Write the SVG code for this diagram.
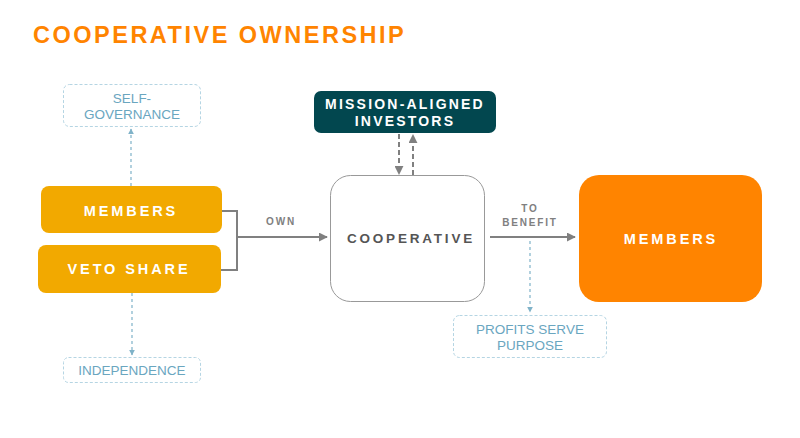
<svg xmlns="http://www.w3.org/2000/svg" width="800" height="438" viewBox="0 0 800 438">
<defs>
<style>
.t{font-family:"Liberation Sans",Arial,sans-serif}
.title{font-size:23.5px;font-weight:bold;fill:#FF8400;letter-spacing:2.5px}
.btxt{font-size:14.5px;font-weight:bold;fill:#fff;letter-spacing:2.9px}
.mtxt{font-size:14px;font-weight:bold;fill:#fff;letter-spacing:2.2px}
.ltxt{font-size:10px;font-weight:bold;fill:#808080;letter-spacing:1.8px}
.dtxt{font-size:13.5px;fill:#6aa6bf}
.dbox{fill:#fff;stroke:#b5d5e3;stroke-width:1;stroke-dasharray:3,2}
.dline{stroke:#7fb2c8;stroke-width:1.2;stroke-dasharray:3,3;fill:none}
.gline{stroke:#808080;stroke-width:2;fill:none}
.gdash{stroke:#808080;stroke-width:2;stroke-dasharray:5,3;fill:none}
</style>
<marker id="ag" viewBox="0 0 10 10" refX="9" refY="5" markerWidth="4.5" markerHeight="4.5" orient="auto"><path d="M0,0 L10,5 L0,10 z" fill="#808080"/></marker>
<marker id="ab" viewBox="0 0 10 10" refX="9" refY="5" markerWidth="5" markerHeight="5" orient="auto"><path d="M0,0 L10,5 L0,10 z" fill="#7fb2c8"/></marker>
</defs>
<rect width="800" height="438" fill="#fff"/>
<text class="t title" x="33" y="43">COOPERATIVE OWNERSHIP</text>

<g id="connectors">
<path class="dline" d="M131,186 V129" marker-end="url(#ab)"/>
<path class="dline" d="M132,293 V355" marker-end="url(#ab)"/>
<path class="gline" d="M222,211 H237 V270 H221"/>
<path class="gline" d="M237,237 H327" marker-end="url(#ag)"/>
<text class="t ltxt" x="281" y="225" text-anchor="middle">OWN</text>
<path class="gdash" d="M399,134 V174" marker-end="url(#ag)"/>
<path class="gdash" d="M413,175 V135" marker-end="url(#ag)"/>
<path class="gline" d="M490,237 H575" marker-end="url(#ag)"/>
<text class="t ltxt" x="530" y="212" text-anchor="middle">TO</text>
<text class="t ltxt" x="530" y="226" text-anchor="middle">BENEFIT</text>
<path class="dline" d="M530,241 V312" marker-end="url(#ab)"/>
</g>

<g id="self-governance">
<rect class="dbox" x="63.5" y="84.5" width="137" height="42" rx="6"/>
<text class="t dtxt" x="132" y="103" text-anchor="middle">SELF-</text>
<text class="t dtxt" x="132" y="119" text-anchor="middle">GOVERNANCE</text>
</g>

<g id="members-left">
<rect x="41" y="186" width="181" height="47" rx="8" fill="#F2A900"/>
<text class="t btxt" x="131" y="216" text-anchor="middle">MEMBERS</text>
</g>

<g id="veto-share">
<rect x="38" y="245" width="183" height="48" rx="8" fill="#F2A900"/>
<text class="t btxt" x="129" y="274" text-anchor="middle">VETO SHARE</text>
</g>

<g id="independence">
<rect class="dbox" x="63.5" y="357.5" width="137" height="25" rx="5"/>
<text class="t dtxt" x="132" y="375" text-anchor="middle">INDEPENDENCE</text>
</g>

<g id="mission-aligned-investors">
<rect x="314" y="91" width="182" height="42" rx="7" fill="#02474F"/>
<text class="t mtxt" x="405" y="109" text-anchor="middle">MISSION-ALIGNED</text>
<text class="t mtxt" x="405" y="126" text-anchor="middle">INVESTORS</text>
</g>

<g id="cooperative">
<rect x="330.5" y="175.5" width="154" height="126" rx="20" fill="#fff" stroke="#999" stroke-width="1"/>
<text class="t" x="411" y="243" text-anchor="middle" font-size="13.5" font-weight="bold" fill="#555" letter-spacing="2.8">COOPERATIVE</text>
</g>

<g id="members-right">
<rect x="579" y="175" width="183" height="127" rx="20" fill="#FF8400"/>
<text class="t btxt" x="671" y="244" text-anchor="middle">MEMBERS</text>
</g>

<g id="profits-serve-purpose">
<rect class="dbox" x="453.5" y="315.5" width="153" height="42" rx="6"/>
<text class="t dtxt" x="530" y="334" text-anchor="middle">PROFITS SERVE</text>
<text class="t dtxt" x="530" y="350" text-anchor="middle">PURPOSE</text>
</g>
</svg>
